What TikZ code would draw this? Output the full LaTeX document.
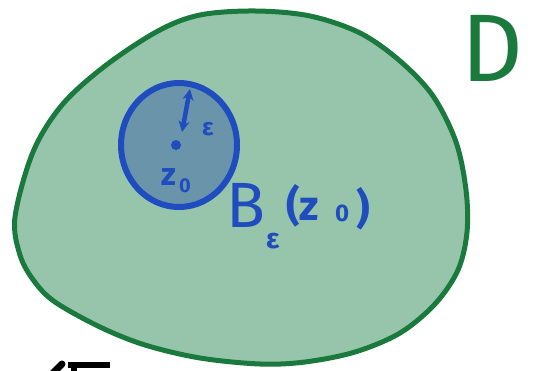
\documentclass[tikz,border=0pt]{standalone}
\usepackage{fontspec}
\setmainfont{Fira Sans}
\usetikzlibrary{arrows.meta}
\definecolor{regionfill}{HTML}{96C5AB}
\definecolor{regionline}{HTML}{1A7A3E}
\definecolor{penblue}{HTML}{1F4DBF}
\definecolor{ballfill}{HTML}{6994AA}
\tikzset{
  regionstyle/.style={fill=regionfill, draw=regionline, line width=5pt, line join=round},
  ballstyle/.style={fill=ballfill, draw=penblue, line width=6pt},
  bluetext/.style={text=penblue, inner sep=0pt},
  greentext/.style={text=regionline, inner sep=0pt},
}
\begin{document}
\begin{tikzpicture}[x=1pt,y=-1pt]
\useasboundingbox (0,0) rectangle (535,371);
\fill[white] (0,0) rectangle (535,371);
% region D
\draw[regionstyle] plot[smooth cycle, tension=0.55] coordinates {
 (15,217) (20,255) (34,281) (55,302) (100,327) (145,345) (200,358) (260,364)
 (305,362) (355,352) (400,333) (435,304) (458,270) (467,232) (466,190)
 (456,142) (433,96) (400,61) (360,33) (310,16) (255,11) (200,15)
 (158,31) (105,66) (62,105) (33,152)};
% ball
\draw[ballstyle] (179,145) ellipse [x radius=58, y radius=62];
% radius arrow
\coordinate (atop) at (190,89);
\coordinate (abot) at (182,132);
\draw[penblue, line width=4.5pt, {Stealth[length=11pt,width=11pt]}-{Stealth[length=11pt,width=11pt]}] (atop) -- (abot);
% centre point
\fill[penblue] (176,145) circle (5);
% labels
\node[bluetext, font=\fontsize{24}{24}\selectfont\bfseries] (eps) at (208,129) {ε};
\node[bluetext, font=\fontsize{32}{32}\selectfont\bfseries, anchor=base] (zz) at (169,186) {z};
\node[bluetext, font=\fontsize{20}{20}\selectfont\bfseries, anchor=base] (zsub) at (185,193) {0};
\node[bluetext, font=\fontsize{64}{64}\selectfont, anchor=base west] (bb) at (226,228) {B};
\node[bluetext, font=\fontsize{28}{28}\selectfont\bfseries, anchor=base west] (beps) at (266,249) {ε};
\node[bluetext, font=\fontsize{42}{42}\selectfont\bfseries, anchor=base west] (bpar) at (286,221) {(z};
\node[bluetext, font=\fontsize{24}{24}\selectfont\bfseries, anchor=base west] (bsub) at (335,222) {0};
\node[bluetext, font=\fontsize{42}{42}\selectfont\bfseries, anchor=base west] (bclose) at (356,224) {)};
\node[greentext, font=\fontsize{96}{96}\selectfont, anchor=base] (dlabel) at (492,82) {D};
% cut-off black strokes at bottom left
\draw[black, line width=7pt, line cap=round] (53,373) -- (62,364);
\draw[black, line width=6pt] (68,365) -- (110,365);
\draw[black, line width=6pt] (74,365) -- (74,372);
\end{tikzpicture}
\end{document}
